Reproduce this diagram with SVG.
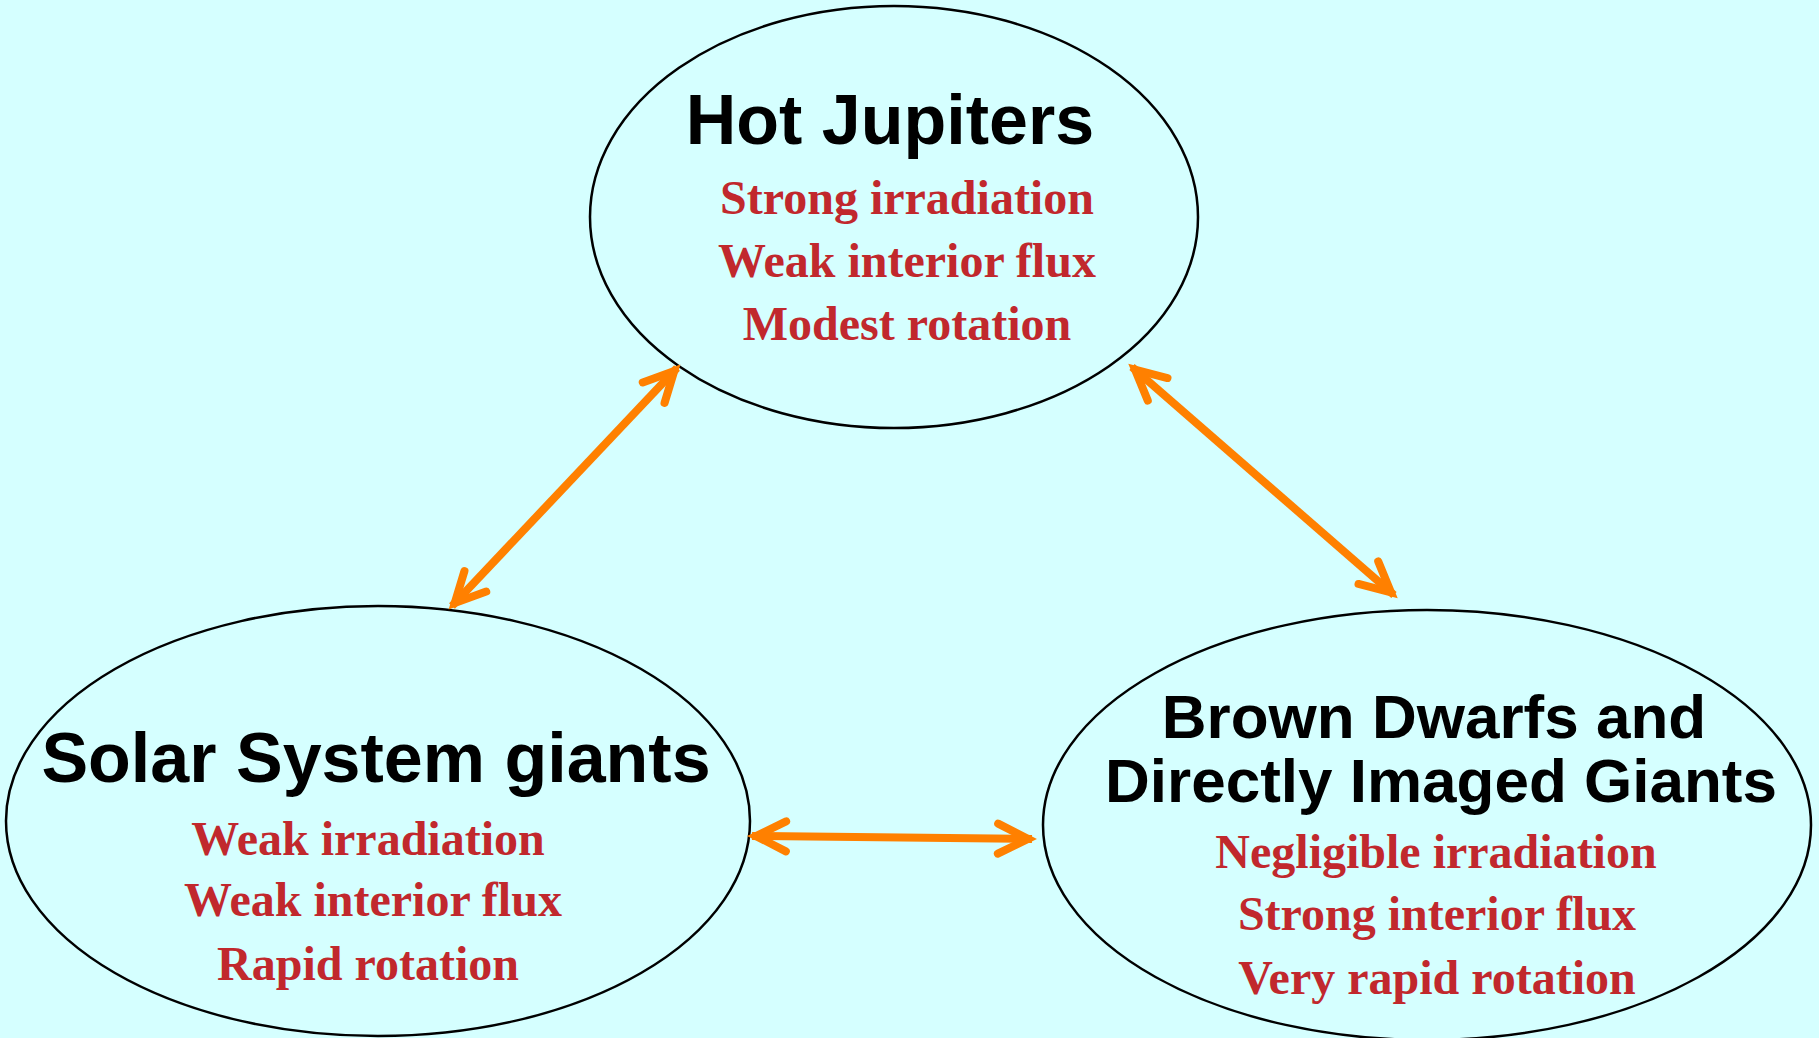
<svg xmlns="http://www.w3.org/2000/svg" width="1819" height="1038" viewBox="0 0 1819 1038">
<style>
.node{fill:#d5ffff;stroke:#000;stroke-width:2.5}
.title{font-family:"Liberation Sans",Arial,sans-serif;font-weight:bold;fill:#000;text-anchor:middle}
.prop{font-family:"Liberation Serif","Times New Roman",serif;font-weight:bold;font-size:48px;fill:#c1282d;text-anchor:middle}
.conn{stroke:#ff8000;stroke-width:8;fill:none;marker-start:url(#ah);marker-end:url(#ah)}
</style>
<defs>
<marker id="ah" markerUnits="userSpaceOnUse" viewBox="-45 -25 55 50" refX="0" refY="0" markerWidth="55" markerHeight="50" orient="auto-start-reverse" overflow="visible">
<path d="M-34,-15 L-4,0 L-34,15" fill="none" stroke="#ff8000" stroke-width="8" stroke-linecap="round" stroke-linejoin="miter"/>
</marker>
</defs>
<rect x="0" y="0" width="1819" height="1038" fill="#d5ffff"/>
<g id="hot-jupiters">
<ellipse class="node" cx="894" cy="217" rx="304" ry="211"/>
<text class="title" x="890" y="144" font-size="70">Hot Jupiters</text>
<text class="prop" x="907" y="214">Strong irradiation</text>
<text class="prop" x="907" y="277">Weak interior flux</text>
<text class="prop" x="907" y="340">Modest rotation</text>
</g>
<g id="solar-system-giants">
<ellipse class="node" cx="378" cy="821" rx="372" ry="215"/>
<text class="title" x="376" y="782" font-size="70">Solar System giants</text>
<text class="prop" x="368" y="855">Weak irradiation</text>
<text class="prop" x="373" y="916">Weak interior flux</text>
<text class="prop" x="368" y="980">Rapid rotation</text>
</g>
<g id="brown-dwarfs">
<ellipse class="node" cx="1427" cy="825" rx="384" ry="215"/>
<text class="title" x="1434" y="738" font-size="62">Brown Dwarfs and</text>
<text class="title" x="1441" y="802" font-size="62">Directly Imaged Giants</text>
<text class="prop" x="1436" y="868">Negligible irradiation</text>
<text class="prop" x="1437" y="930">Strong interior flux</text>
<text class="prop" x="1437" y="994">Very rapid rotation</text>
</g>
<g id="connectors">
<line class="conn" x1="677" y1="368" x2="452" y2="606"/>
<line class="conn" x1="1132" y1="367" x2="1394" y2="595"/>
<line class="conn" x1="752" y1="836" x2="1032" y2="839"/>
</g>
</svg>
